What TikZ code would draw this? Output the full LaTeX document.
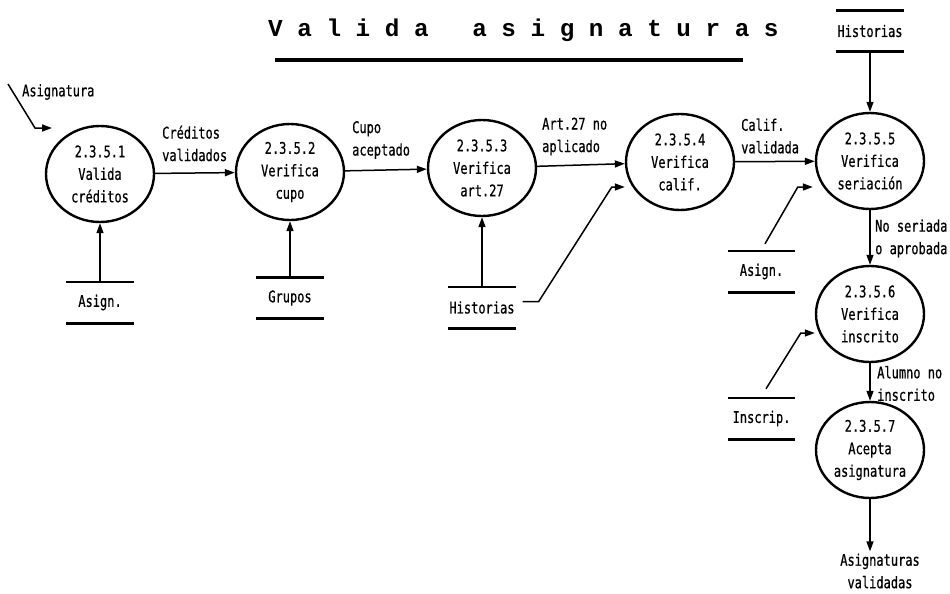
\documentclass[tikz,border=0pt]{standalone}
\usepackage{fontspec}
\usetikzlibrary{shapes.geometric,arrows.meta,calc}
\newfontfamily\lblfont[FakeStretch=0.75,FakeBold=0.6]{DejaVu Sans Mono}
\newfontfamily\titlefont{Liberation Mono}

\begin{document}
\begin{tikzpicture}[x=1pt,y=-1pt,
  every node/.style={font=\lblfont\fontsize{16}{22.5}\selectfont, inner sep=0pt},
  proc/.style={ellipse, draw, line width=2.4pt, minimum width=108pt,
    minimum height=96pt, align=center},
  store/.style={minimum width=67pt, minimum height=41pt,
    append after command={
      (\tikzlastnode.north west) edge[line width=2.6pt] (\tikzlastnode.north east)
      (\tikzlastnode.south west) edge[line width=2.6pt] (\tikzlastnode.south east)}},
  flow/.style={line width=1.5pt, -{Triangle[length=10pt,width=7pt]}},
  lbl/.style={align=left, anchor=west}]

\useasboundingbox (0,0) rectangle (950,594);

% title
\node[font=\titlefont\bfseries\fontsize{24.3}{28}\selectfont, anchor=west] (title) at (268,30)
  {V\ a\ l\ i\ d\ a\ \ \ a\ s\ i\ g\ n\ a\ t\ u\ r\ a\ s};
\draw[line width=4.5pt] ($(title.west)+(7,30)$) -- ($(title.west)+(475,30)$);

% processes
\node[proc] (c1) at (100,174) {2.3.5.1\\Valida\\créditos};
\node[proc] (c2) at (290,172) {2.3.5.2\\Verifica\\cupo};
\node[proc] (c3) at (482,168) {2.3.5.3\\Verifica\\art.27};
\node[proc] (c4) at (680,162) {2.3.5.4\\Verifica\\calif.};
\node[proc] (c5) at (870,161) {2.3.5.5\\Verifica\\seriación};
\node[proc] (c6) at (870,314) {2.3.5.6\\Verifica\\inscrito};
\node[proc] (c7) at (870,450) {2.3.5.7\\Acepta\\asignatura};

% data stores
\node[store] (s1) at (100,302.5) {Asign.};
\node[store] (s2) at (290,298) {Grupos};
\node[store] (s3) at (482,307.5) {Historias};
\node[store] (s4) at (870,31) {Historias};
\node[store] (s5) at (761.5,271.5) {Asign.};
\node[store] (s6) at (761.5,418.5) {Inscrip.};

% flow labels
\node[lbl] (l12) at (162,143.5) {Créditos\\validados};
\node[lbl] (l23) at (352,140) {Cupo\\aceptado};
\node[lbl] (l34) at (542,136.5) {Art.27 no\\aplicado};
\node[lbl] (l45) at (741,136) {Calif.\\validada};
\node[lbl] (l56) at (875,238.5) {No seriada\\o aprobada};
\node[lbl] (l67) at (877,383.5) {Alumno no\\inscrito};
\node[lbl] (asig) at (22,92) {Asignatura};
\node[align=center] (out) at (880,571) {Asignaturas\\validadas};

% main chain
\draw[flow] (c1) -- (c2);
\draw[flow] (c2) -- (c3);
\draw[flow] (c3) -- (c4);
\draw[flow] (c4) -- (c5);
\draw[flow] (c5) -- (c6);
\draw[flow] (c6) -- (c7);
\draw[flow] (c7.south) -- ($(c7.south |- out.north)+(0,-2)$);

% store reads
\draw[flow] (s1.north) -- (c1.south);
\draw[flow] (s2.north) -- (c2.south);
\draw[flow] (s3.north) -- (c3.south);
\draw[flow] (s4.south) -- (c5.north);

% external input
\coordinate (inA) at ($(asig.west)+(-14,-8)$);
\coordinate (tA) at ($(c1.center)+(-48,-46)$);
\draw[flow] (inA) -- ($(tA)+(-17,0)$) -- (tA);

% bent store reads
\coordinate (h3out) at ($(s3.east)+(7,-6)$);
\coordinate (t4) at ($(c4.west)+(0,25)$);
\draw[flow] (h3out) -- ++(16,0) -- ($(t4)+(-13,0)$) -- (t4);

\coordinate (s5out) at ($(s5.north)+(3.5,-7)$);
\coordinate (t5) at ($(c5.west)+(-2,26)$);
\draw[flow] (s5out) -- ($(t5)+(-15,0)$) -- (t5);

\coordinate (s6out) at ($(s6.north)+(4.5,-9)$);
\coordinate (t6) at ($(c6.west)+(0,19)$);
\draw[flow] (s6out) -- ($(t6)+(-14,0)$) -- (t6);

\end{tikzpicture}
\end{document}
